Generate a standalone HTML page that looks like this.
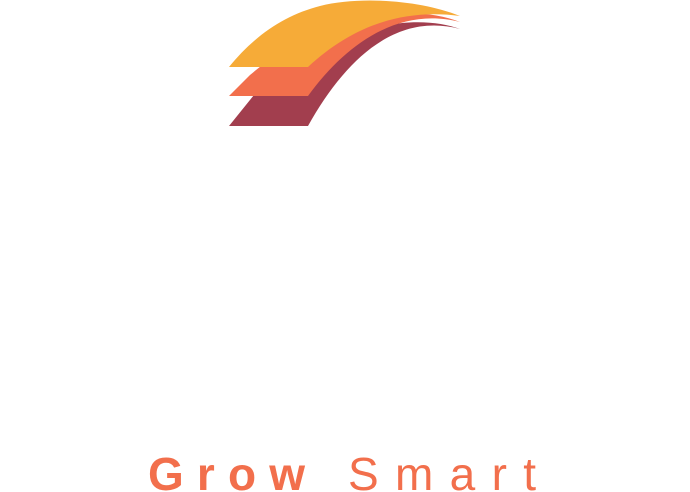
<!DOCTYPE html>
<html><head><meta charset="utf-8"><style>
html,body{margin:0;padding:0;background:#fff;width:690px;height:492px;overflow:hidden}
</style></head><body>
<svg width="690" height="492" viewBox="0 0 690 492">
<g>
<path fill="#a23e4e" d="M229,126 L308,126 C345,60 395,12 460,29 C415,12 330,25 258,90 Z"/>
<path fill="#f26f4c" d="M229,96 L308,96 C345,45 398,6 460,22 C410,2 320,15 250,75 Z"/>
<path fill="#f6ab38" d="M229,67 L308,67 C350,28 400,8 460,16 C420,0 360,-4 320,6 C285,15 255,35 229,67 Z"/>
</g>
<text x="148" y="490" font-family="Liberation Sans, sans-serif" font-weight="bold" font-size="46" fill="#f26f4c" textLength="157" lengthAdjust="spacing">Grow</text>
<text x="348" y="490" font-family="Liberation Sans, sans-serif" font-size="46" fill="#f26f4c" textLength="188" lengthAdjust="spacing">Smart</text>
</svg>
</body></html>
